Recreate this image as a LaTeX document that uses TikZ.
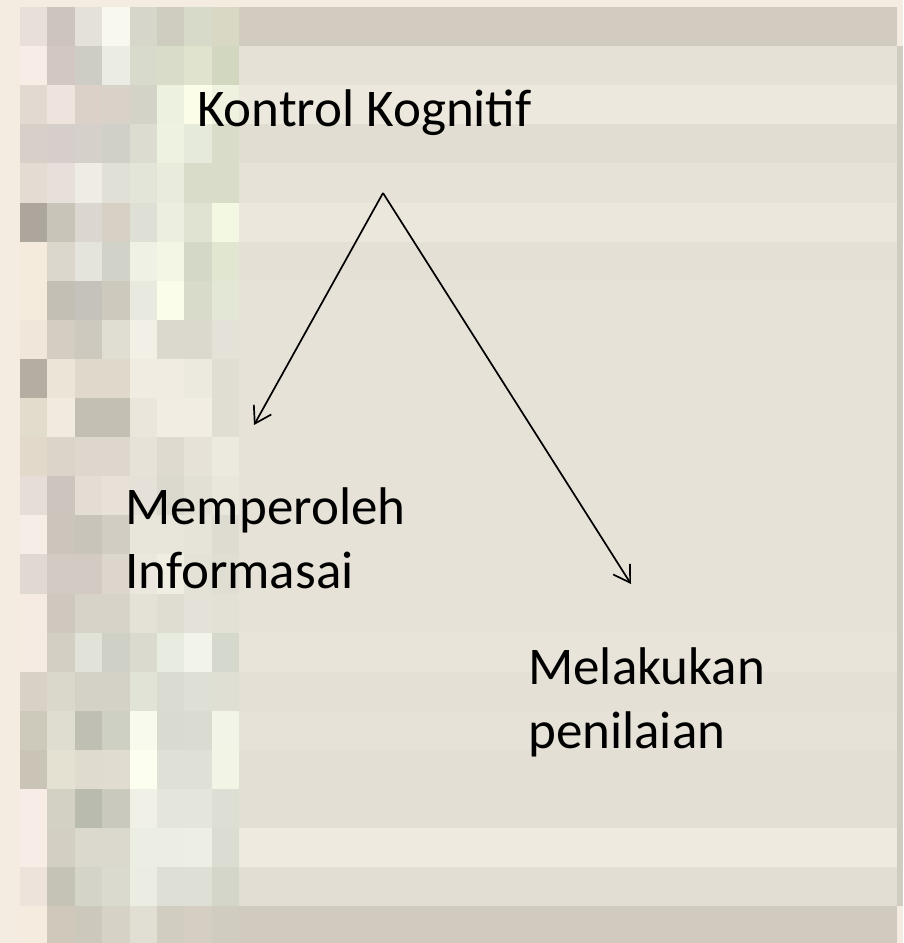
\documentclass[tikz,border=0pt]{standalone}
\usepackage{fontspec}
\setmainfont{Carlito}
\usetikzlibrary{arrows.meta}
\newcommand{\mycell}[5]{\definecolor{cc}{HTML}{#5}\fill[cc] (#1,#2) rectangle (#3,#4);}
\tikzset{
  lbl/.style={inner sep=0pt, anchor=base west, align=left, font=\fontsize{53}{64}\selectfont, text=black},
  link/.style={draw=black, line width=1.7pt, -{Straight Barb[length=16pt,width=20pt,line width=1.7pt]}}
}
\begin{document}
\begin{tikzpicture}[x=1pt,y=-1pt]
\useasboundingbox (0,0) rectangle (903,943);
\definecolor{cream}{HTML}{F5ECE1}
\fill[cream] (0,0) rectangle (903,943);
\foreach \rr/\cols [count=\j from 0] in {
 D2CBC0/{E8E0D8,CDC4BD,E4E1DA,F8F8EE,D6D6CB,CFCDBF,D8DAC9,D8D8C4},
 E5E1D7/{F7EDE6,D2C7C2,CDCDC5,EBECE3,D8DACB,D9DCC9,E0E4CF,D2D8C0},
 ECE8DD/{E2D9D0,EFE4DD,DCD1C8,D8D2C8,D4D3C7,EDF1DF,FBFDE9,EEF2DE},
 E1DDD2/{D8CFC9,D5CECA,D5D0CA,D0CFC8,DCDDD0,EEF2E0,E6EADB,D8DCC8},
 E6E2D8/{E4DCD2,E7E0DA,EFECE4,E0E0D6,E4E5D9,E9EBDC,D9DCC9,D9DCC8},
 EBE7DD/{ACA69D,C8C4B8,DBD7D0,D6D0C5,DFE0D5,ECEFDF,E0E3D2,F3F8E2},
 E4E0D6/{F5EBDD,DCD7CC,E4E4DC,D1D3C8,EEF1E4,F3F5E5,D4D8C6,E1E6D1},
 E6E2D8/{F5EBDD,C4BFB4,C5C2BB,CDC9BD,E8EADF,FAFDE9,D8DBCA,E3E7D5},
 E6E2D8/{F0E6DA,D4CEC2,CDC9BF,E0DDD3,F2F0E6,DBD8CE,DBD8CE,E4E1D8},
 E6E2D8/{B3ADA2,EBE4D7,E0D8CB,E0D8CB,F0ECE2,F0ECE2,ECE9DF,E0DDD3},
 E6E2D8/{E2DCCD,F1EBDF,C4BFB3,C4BFB3,EAE6DC,F1EDE3,F1EDE3,E0DDD3},
 E6E2D8/{E2D9CB,DBD4C8,DDD7CD,DDD7CD,E6E2D7,DEDACF,E6E2D8,ECE9DF},
 E6E2D8/{E6DED6,CCC5BD,E3DDD4,E7E1D7,E5E1D8,DBD8CE,E2DFD5,E9E6DC},
 E6E2D8/{F6EDE6,CBC5BB,C8C4B9,D1CDC3,E8E5DB,E8E5DB,E6E3D9,DEDBD1},
 E6E2D8/{E0D9D1,D3CBC3,D3CBC3,DCD6CD,EBE7DE,F0EDE3,E4E1D7,E0DDD3},
 E6E2D8/{F5EBE3,CFC8BE,D7D3C8,D7D3C8,E4E1D7,DFDCD2,E4E2D8,E3E0D6},
 E8E4DA/{F5EBE3,D3CFC3,E2E3D8,D0D1C6,DADACF,E8EBE0,F2F4E9,D5D8CC},
 E4E0D6/{D9D0C6,D9D8CA,D4D2C6,D4D2C6,E2E3D7,DBDCD1,DFE0D5,DFDFD4},
 E6E2D8/{CDC9BB,DEDDD0,BFC0B3,CFD0C4,F8FAEE,DADBD0,DADCD1,F2F4E7},
 E3DFD5/{C9C4B6,E4E1D3,E0DBCF,E0DDD0,FCFFF0,E0E1D6,E0E1D6,F2F4E6},
 E3DFD5/{F7EDE6,D3D0C4,BABBAF,C9C9BD,F0F0E6,E4E5DB,E4E6DB,DDDFD4},
 EEEAE0/{F7EDE6,D3CFC3,DBD9CE,DBD9CE,EDEEE3,EDEEE3,EDEFE4,DCDDD2},
 E2DED3/{EDE3DB,C4C3B6,D4D4C9,DADACE,ECEDE2,DFE0D5,DFE0D5,D4D6CA},
 D1CABE/{F5EBDE,D0C8BB,CCC9BC,D6D3C6,E1DFD3,D1CDC0,D4CFC2,D0CCC0}}
{
  \pgfmathsetmacro{\ya}{7+39.1*\j}
  \pgfmathsetmacro{\yb}{min(7+39.1*(\j+1),943)}
  \mycell{239}{\ya}{897.2}{\yb}{\rr}
  \foreach \c [count=\i from 0] in \cols {
    \pgfmathsetmacro{\xa}{20+27.4*\i}
    \pgfmathsetmacro{\xb}{20+27.4*(\i+1)}
    \mycell{\xa}{\ya}{\xb+0.2}{\yb+0.2}{\c}
  }
}
\definecolor{edge}{HTML}{D0CCC2}
\fill[edge] (897,46.1) rectangle (903,906.3);

\node[lbl] (kontrol) at (197,126) {Kontrol Kognitif};
\node[lbl] (info) at (125,588) {Memperoleh\\Informasai};
\node[lbl] (nilai) at (528,748) {Melakukan\\penilaian};

\coordinate (apex) at (383,193);
\coordinate (tipL) at (254,425);
\coordinate (tipR) at (631,584);
\draw[link] (apex) -- (tipL);
\draw[link] (apex) -- (tipR);
\end{tikzpicture}
\end{document}
